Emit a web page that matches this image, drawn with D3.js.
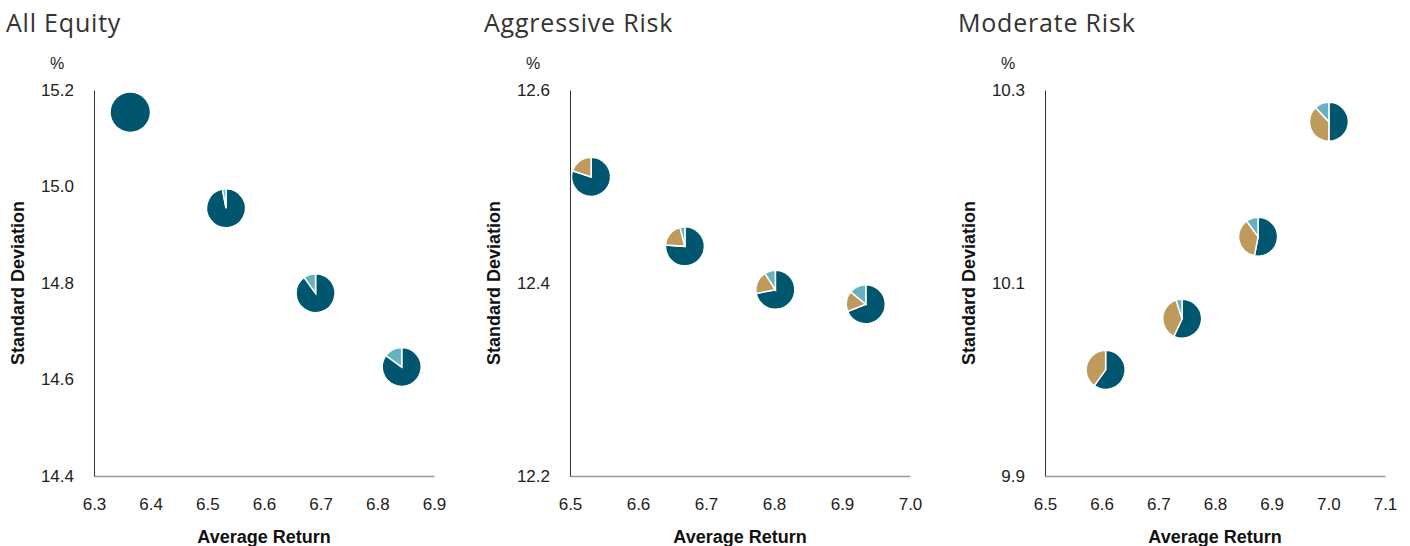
<!DOCTYPE html>
<html><head><meta charset="utf-8">
<script src="https://cdn.jsdelivr.net/npm/d3@7"></script>
<style>body{margin:0;background:#fff}svg{display:block}</style>
</head><body>
<svg id="c" width="1410" height="546"></svg>
<script>
const panelTitles = ["All Equity", "Aggressive Risk", "Moderate Risk"];
const xTickLabels = [
  [6.3, 6.4, 6.5, 6.6, 6.7, 6.8, 6.9],
  [6.5, 6.6, 6.7, 6.8, 6.9, 7.0],
  [6.5, 6.6, 6.7, 6.8, 6.9, 7.0, 7.1]
];
const yTickLabels = [
  [14.4, 14.6, 14.8, 15.0, 15.2],
  [12.2, 12.4, 12.6],
  [9.9, 10.1, 10.3]
];
const averageReturn = [
  [6.364, 6.533, 6.691, 6.843],
  [6.531, 6.669, 6.802, 6.935],
  [6.607, 6.742, 6.876, 7.001]
];
const standardDeviation = [
  [15.154, 14.955, 14.779, 14.626],
  [12.510, 12.438, 12.393, 12.378],
  [10.010, 10.063, 10.148, 10.267]
];
// allocation shares in each pie (dark teal, tan, light teal)
const shareDark  = [[100, 97, 90, 85], [80, 76, 72, 69], [60, 57, 53, 50]];
const shareTan   = [[0, 0, 0, 0],      [20, 20, 19, 17], [40, 38, 37, 38]];
const shareLight = [[0, 3, 10, 15],    [0, 4, 9, 14],    [0, 5, 10, 12]];
const sliceColors = ["#01566F", "#BE9A5D", "#67B2BE"];

const svg = d3.select("#c");
const axisX0 = [94, 570, 1045];
const plotW = 340, yTop = 90, yBot = 476;
const titleX = [6, 484, 958];

panelTitles.forEach((t, p) => {
  const g = svg.append("g");
  const x0 = axisX0[p];
  const xd = xTickLabels[p], yd = yTickLabels[p];
  const x = d3.scaleLinear().domain([xd[0], xd[xd.length - 1]]).range([x0, x0 + plotW]);
  const y = d3.scaleLinear().domain([yd[0], yd[yd.length - 1]]).range([yBot, yTop]);

  g.append("text").attr("x", titleX[p]).attr("y", 32)
    .attr("font-family", "Open Sans").attr("font-size", 25).attr("letter-spacing", 0.8)
    .attr("fill", "#333").text(t);

  const xa = g.append("g").attr("transform", `translate(0,${yBot})`)
    .call(d3.axisBottom(x).tickValues(xd).tickSize(0).tickPadding(22).tickFormat(d3.format(".1f")));
  xa.select(".domain").attr("stroke", "#999").attr("stroke-width", 1.5);
  xa.selectAll("text").attr("font-family", "Liberation Sans, Arial").attr("font-size", 17).attr("fill", "#222");

  const ya = g.append("g").attr("transform", `translate(${x0},0)`)
    .call(d3.axisLeft(y).tickValues(yd).tickSize(0).tickPadding(20).tickFormat(d3.format(".1f")));
  ya.select(".domain").attr("stroke", "#333").attr("stroke-width", 1);
  ya.selectAll("text").attr("font-family", "Liberation Sans, Arial").attr("font-size", 17).attr("fill", "#222");

  g.append("text").attr("x", x0 - 37).attr("y", 69).attr("text-anchor", "middle")
    .attr("font-family", "Liberation Sans, Arial").attr("font-size", 16).attr("fill", "#222").text("%");

  g.append("text").attr("x", (x0 + x0 + plotW) / 2).attr("y", 543).attr("text-anchor", "middle")
    .attr("font-family", "Liberation Sans, Arial").attr("font-weight", "bold").attr("font-size", 18)
    .attr("fill", "#111").text("Average Return");

  g.append("text").attr("transform", `translate(${x0 - 76},${(yTop + yBot) / 2}) rotate(-90)`)
    .attr("text-anchor", "middle").attr("dy", "0.35em")
    .attr("font-family", "Liberation Sans, Arial").attr("font-weight", "bold").attr("font-size", 18)
    .attr("fill", "#111").text("Standard Deviation");

  const pie = d3.pie().sort(null).value(d => d);
  const arc = d3.arc().innerRadius(0).outerRadius(19.5);
  averageReturn[p].forEach((r, i) => {
    const vals = [shareDark[p][i], shareTan[p][i], shareLight[p][i]];
    const pg = g.append("g").attr("transform", `translate(${x(r)},${y(standardDeviation[p][i])})`);
    const arcs = pie(vals).filter(a => a.value > 0);
    pg.selectAll("path").data(arcs).enter().append("path")
      .attr("d", arc).attr("fill", a => sliceColors[a.index])
      .attr("stroke", "#fff").attr("stroke-width", arcs.length > 1 ? 1.5 : 0);
  });
});
</script>
</body></html>
